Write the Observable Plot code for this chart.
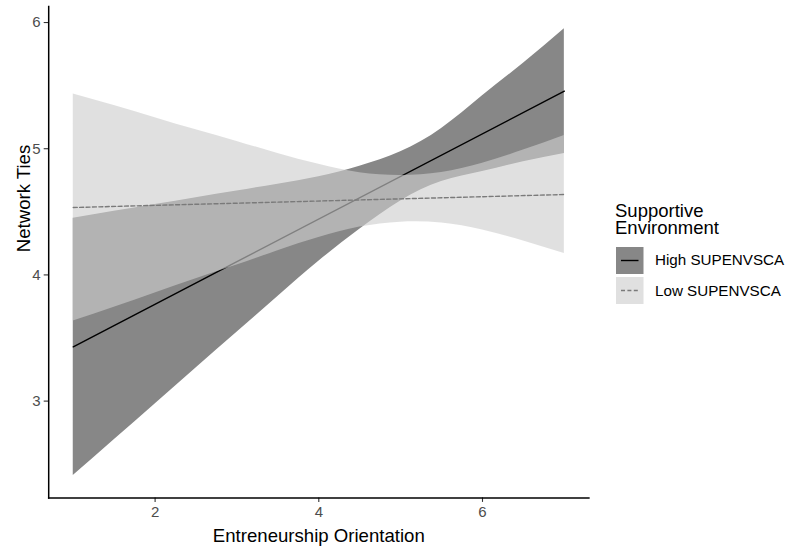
<!DOCTYPE html>
<html><head><meta charset="utf-8">
<script src="https://cdn.jsdelivr.net/npm/d3@7"></script>
<script src="https://cdn.jsdelivr.net/npm/@observablehq/plot@0.6"></script>
<style>
body{margin:0;background:#fff;font-family:"Liberation Sans",Arial,sans-serif;}
#wrap{position:relative;width:787px;height:547px;overflow:hidden;}
#wrap svg{display:block;}
.lg{position:absolute;font-family:"Liberation Sans",Arial,sans-serif;color:#000;white-space:nowrap;}
</style></head><body><div id="wrap"></div>
<script>
// ---- data ----
const xGrid     = [1, 1.5, 2, 2.5, 3, 3.5, 4, 4.5, 5, 5.5, 6, 6.5, 7];
const highLower = [2.41, 2.694, 2.978, 3.262, 3.545, 3.829, 4.108, 4.362, 4.586, 4.74, 4.819, 4.897, 4.962];
const highUpper = [4.45, 4.504, 4.558, 4.612, 4.665, 4.719, 4.778, 4.862, 4.976, 5.16, 5.419, 5.677, 5.95];
const lowLower  = [3.634, 3.743, 3.856, 3.97, 4.078, 4.192, 4.296, 4.379, 4.418, 4.411, 4.355, 4.269, 4.169];
const lowUpper  = [5.434, 5.343, 5.246, 5.15, 5.058, 4.962, 4.876, 4.809, 4.788, 4.811, 4.885, 4.989, 5.105];
const lineX     = [1, 7];
const highLine  = [3.43, 5.456];
const lowLine   = [4.534, 4.637];
const xTicks    = [2, 4, 6];
const yTicks    = [3, 4, 5, 6];
const seriesNames = ["High SUPENVSCA", "Low SUPENVSCA"];
const legendTitle = ["Supportive", "Environment"];
const xTitle = "Entreneurship Orientation";
const yTitle = "Network Ties";

// ---- styles ----
const highFill = "#878787";
const lowFill = "#cdcdcd", lowOpacity = 0.625;
const lowStroke = "#7a7a7a";
const dash = "4,2.4";

const band = (lo, hi) => xGrid.map((x, i) => ({x, lo: lo[i], hi: hi[i]}));
const line = (ys) => lineX.map((x, i) => ({x, y: ys[i]}));

const W = 787, H = 547;
const mL = 48.2, mR = W - 588.4, mT = 6, mB = H - 497.4;

const plot = Plot.plot({
  width: W, height: H,
  marginLeft: mL, marginRight: mR, marginTop: mT, marginBottom: mB,
  style: {fontFamily: "'Liberation Sans', Arial, sans-serif", fontSize: "15px", background: "#fff"},
  x: {domain: [0.7, 7.3]},
  y: {domain: [2.233, 6.127]},
  marks: [
    Plot.areaY(band(highLower, highUpper), {x: "x", y1: "lo", y2: "hi", fill: highFill, curve: "natural"}),
    Plot.line(line(highLine), {x: "x", y: "y", stroke: "#000", strokeWidth: 1.4}),
    Plot.areaY(band(lowLower, lowUpper), {x: "x", y1: "lo", y2: "hi", fill: lowFill, fillOpacity: lowOpacity, curve: "natural"}),
    Plot.line(line(lowLine), {x: "x", y: "y", stroke: lowStroke, strokeWidth: 1.4, strokeDasharray: dash}),
    Plot.axisX({ticks: xTicks, tickFormat: d3.format("d"), tickSize: 4.5, tickPadding: 4, stroke: "#333", strokeWidth: 1.1, fill: "#4d4d4d", label: null}),
    Plot.axisY({ticks: yTicks, tickFormat: d3.format("d"), tickSize: 4.5, tickPadding: 3.5, stroke: "#333", strokeWidth: 1.1, fill: "#4d4d4d", label: null}),
    Plot.frame({anchor: "bottom", stroke: "#000", strokeWidth: 1.5}),
    Plot.frame({anchor: "left", stroke: "#000", strokeWidth: 1.5}),
    Plot.text([xTitle], {frameAnchor: "bottom", dy: 38, fontSize: 18.6, fill: "#000", lineAnchor: "middle"}),
    Plot.text([yTitle], {frameAnchor: "left", dx: -24.5, rotate: -90, fontSize: 18.6, fill: "#000", lineAnchor: "middle"})
  ]
});
// enlarge tick labels
const tickStrings = new Set([...xTicks, ...yTicks].map(d3.format("d")));
d3.select(plot).selectAll("text").each(function() {
  if (tickStrings.has(this.textContent.trim())) this.style.fontSize = "15px";
});
const wrap = document.getElementById("wrap");
wrap.appendChild(plot);

// ---- legend ----
const lg = d3.select(wrap);
legendTitle.forEach((t, i) => {
  lg.append("div").attr("class", "lg")
    .style("left", "615px").style("top", (201.5 + i * 17.6) + "px")
    .style("font-size", "18.5px").style("line-height", "17.6px").style("height", "17.6px")
    .text(t);
});
const keyFills = [highFill, "#e0e0e0"];
const keyStrokes = ["#000", lowStroke];
const keyDash = [null, dash];
seriesNames.forEach((name, i) => {
  const top = 246.5 + i * 30.5;
  const s = lg.append("svg").attr("width", 28).attr("height", 27)
    .style("position", "absolute").style("left", "616px").style("top", top + "px");
  s.append("rect").attr("width", 27.5).attr("height", 27).attr("fill", keyFills[i]);
  s.append("line").attr("x1", 5).attr("x2", 22.5).attr("y1", 13.5).attr("y2", 13.5)
    .attr("stroke", keyStrokes[i]).attr("stroke-width", 1.4).attr("stroke-dasharray", keyDash[i]);
  lg.append("div").attr("class", "lg")
    .style("left", "655px").style("top", (top + 13.5 - 9) + "px")
    .style("font-size", "15.2px").style("line-height", "18px")
    .text(name);
});
</script></body></html>
